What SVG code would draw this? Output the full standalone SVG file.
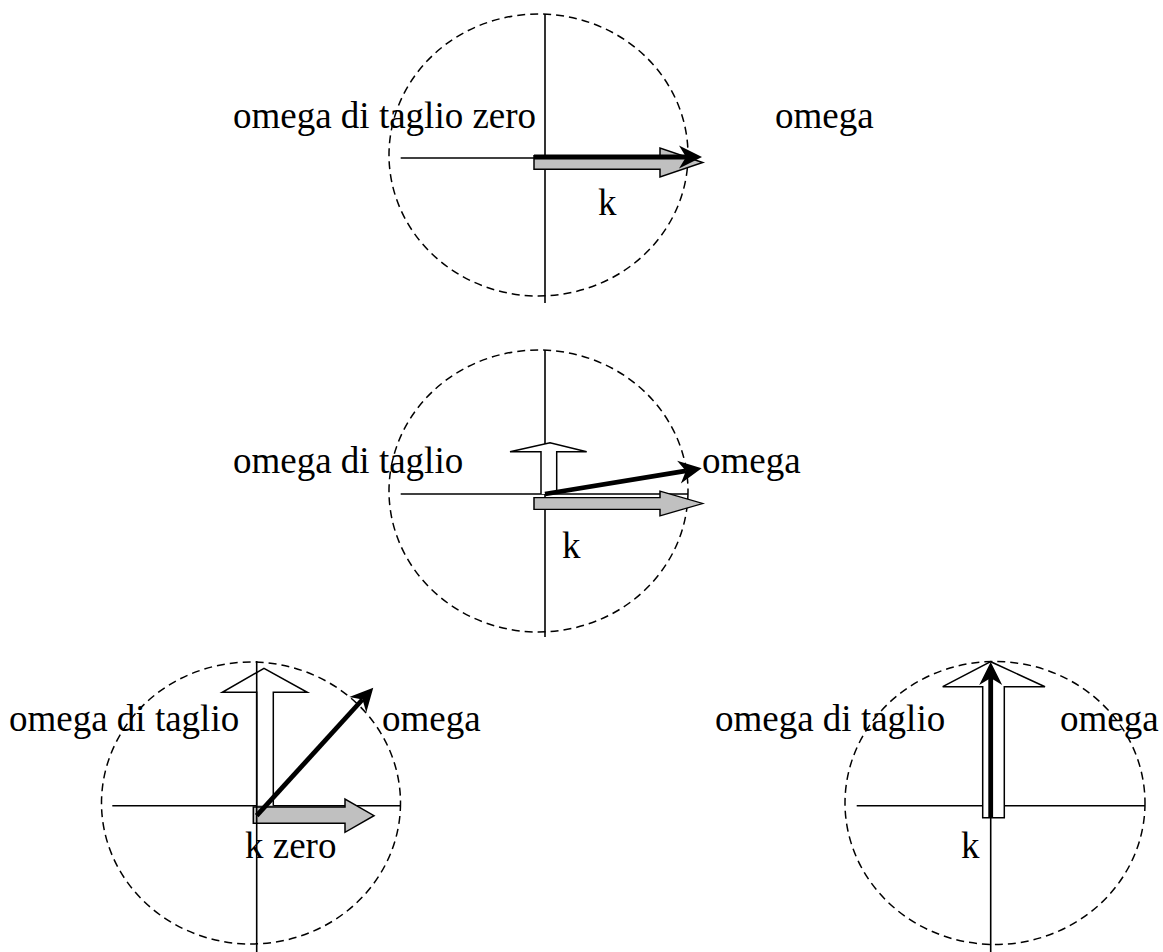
<svg xmlns="http://www.w3.org/2000/svg" width="1163" height="952" viewBox="0 0 1163 952">
<style>
  .circ { fill: none; stroke: #000; stroke-width: 1.5; stroke-dasharray: 8 5; }
  .axis { fill: none; stroke: #000; stroke-width: 1.6; }
  .gray { fill: #c0c0c0; stroke: #000; stroke-width: 1.5; stroke-linejoin: miter; }
  .white { fill: #fff; stroke: #000; stroke-width: 1.5; stroke-linejoin: miter; }
  .vec { fill: none; stroke: #000; stroke-width: 4.8; marker-end: url(#head); }
  .lbl { font-family: "Liberation Serif", "Times New Roman", serif; font-size: 37px; fill: #000; }
</style>
<defs>
  <marker id="head" markerUnits="userSpaceOnUse" viewBox="-10 -14 28 28" refX="0" refY="0" markerWidth="28" markerHeight="28" orient="auto" overflow="visible">
    <path d="M-7,-11.5 L16,0 L-7,11.5 L0,0 Z" fill="#000"/>
  </marker>
  <path id="grayArrow" d="M0,-6.8 H126 V-14.5 L168.7,0 L126,14.5 V6.8 H0 Z"/>
</defs>

<g id="panel1">
  <ellipse class="circ" cx="538.5" cy="155" rx="149.5" ry="141"/>
  <line class="axis" x1="545" y1="14" x2="545" y2="303"/>
  <line class="axis" x1="400.7" y1="158" x2="688" y2="158"/>
  <use href="#grayArrow" class="gray" transform="translate(534,162.5)"/>
  <line class="vec" x1="534" y1="157" x2="686" y2="157"/>
  <text class="lbl" x="233" y="128">omega di taglio zero</text>
  <text class="lbl" x="775" y="128">omega</text>
  <text class="lbl" x="598" y="215">k</text>
</g>

<g id="panel2">
  <ellipse class="circ" cx="538.5" cy="491" rx="149.5" ry="141"/>
  <line class="axis" x1="545" y1="350" x2="545" y2="637"/>
  <line class="axis" x1="400.7" y1="494" x2="688" y2="494"/>
  <use href="#grayArrow" class="gray" transform="translate(534,503.5) scale(1,0.85)"/>
  <path class="white" d="M541,494 V451.7 H510 L550,442.7 L586.7,451.7 H556.7 V494"/>
  <line class="vec" x1="545" y1="494" x2="685.9" y2="470.9"/>
  <text class="lbl" x="233" y="473">omega di taglio</text>
  <text class="lbl" x="702" y="473">omega</text>
  <text class="lbl" x="562" y="558">k</text>
</g>

<g id="panel3">
  <ellipse class="circ" cx="251" cy="803" rx="149.5" ry="141"/>
  <line class="axis" x1="112.3" y1="805.7" x2="400.7" y2="805.7"/>
  <path class="gray" d="M253.3,807 H345 V799 L374,815.7 L345,832.3 V823.3 H253.3 Z"/>
  <path class="white" d="M256.7,805.7 V692.3 H222.3 L264,668.3 L307.3,692.3 H273.3 V805.7"/>
  <line class="axis" x1="256.7" y1="661" x2="256.7" y2="952" stroke-width="2.2"/>
  <line class="vec" x1="256.7" y1="815.7" x2="362.5" y2="699.5"/>
  <text class="lbl" x="9" y="731">omega di taglio</text>
  <text class="lbl" x="382" y="731">omega</text>
  <text class="lbl" x="245" y="858">k zero</text>
</g>

<g id="panel4">
  <ellipse class="circ" cx="995" cy="803" rx="150" ry="141.5"/>
  <line class="axis" x1="990.7" y1="661" x2="990.7" y2="952"/>
  <line class="axis" x1="856.7" y1="805.7" x2="1145" y2="805.7"/>
  <path class="white" d="M982.7,817.7 V686.7 H942.7 L990.7,661.7 L1045,686.7 H1004.3 V817.7 Z"/>
  <line class="vec" x1="990.7" y1="817.7" x2="990.7" y2="678"/>
  <text class="lbl" x="715" y="731">omega di taglio</text>
  <text class="lbl" x="1060" y="731">omega</text>
  <text class="lbl" x="961" y="858">k</text>
</g>
</svg>
